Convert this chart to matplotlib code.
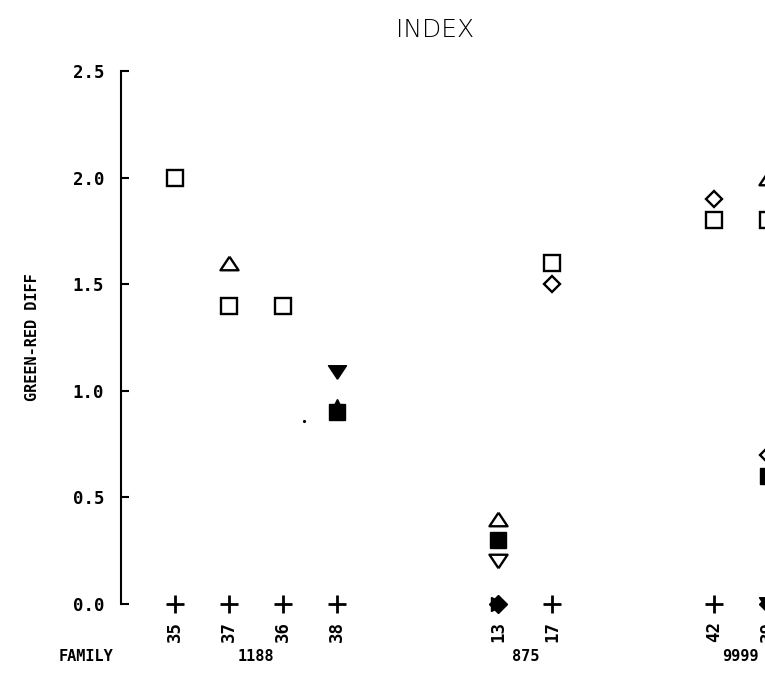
import matplotlib
matplotlib.use("Agg")
import matplotlib.pyplot as plt

## Data
sample_pos = [1, 2, 3, 4, 7, 8, 11, 12]
sample_ids = ["35", "37", "36", "38", "13", "17", "42", "39"]
family_names = ["1188", "875", "9999"]
family_pos = [2.5, 7.5, 11.5]

# open symbols
open_square_x = [1, 2, 3, 8, 11, 12]
open_square_y = [2.0, 1.4, 1.4, 1.6, 1.8, 1.8]
open_tri_up_x = [2, 7, 12]
open_tri_up_y = [1.6, 0.4, 2.0]
open_tri_down_x = [7]
open_tri_down_y = [0.2]
open_diamond_x = [8, 11, 12]
open_diamond_y = [1.5, 1.9, 0.7]

# filled symbols
filled_tri_up_x = [4]
filled_tri_up_y = [0.93]
filled_square_x = [4, 7, 12]
filled_square_y = [0.9, 0.3, 0.6]
filled_tri_down_x = [4, 12]
filled_tri_down_y = [1.09, 0.0]
filled_diamond_x = [7, 12]
filled_diamond_y = [0.0, 0.0]
filled_tri_right_x = [7]
filled_tri_right_y = [0.0]

# crosses on the baseline
plus_x = [1, 2, 3, 4, 8, 11]
plus_y = [0.0, 0.0, 0.0, 0.0, 0.0, 0.0]

# stray dot on the scan
dot_x = [3.4]
dot_y = [0.86]

yticks = [0.0, 0.5, 1.0, 1.5, 2.0, 2.5]
ytick_labels = ["0.0", "0.5", "1.0", "1.5", "2.0", "2.5"]

## Plot
fig = plt.figure(figsize=(7.65, 6.91), dpi=100)
ax = fig.add_axes([0.1582, 0.1259, 0.8418, 0.7714])

tri_up = [(0, 0.75), (-1, -0.75), (1, -0.75), (0, 0.75)]
tri_down = [(0, -0.75), (-1, 0.75), (1, 0.75), (0, -0.75)]

kw = dict(linestyle="none", clip_on=False, color="black")
ax.plot(open_square_x, open_square_y, marker="s", ms=12, mfc="white", mew=1.7, **kw)
ax.plot(open_tri_up_x, open_tri_up_y, marker=tri_up, ms=13, mfc="white", mew=1.7, **kw)
ax.plot(open_tri_down_x, open_tri_down_y, marker=tri_down, ms=13, mfc="white", mew=1.7, **kw)
ax.plot(open_diamond_x, open_diamond_y, marker="D", ms=8.5, mfc="white", mew=1.7, **kw)

ax.plot(filled_tri_up_x, filled_tri_up_y, marker="^", ms=10, mfc="black", mew=1, **kw)
ax.plot(filled_square_x, filled_square_y, marker="s", ms=12, mfc="black", mew=1, **kw)
ax.plot(filled_tri_down_x, filled_tri_down_y, marker=tri_down, ms=13, mfc="black", mew=1, **kw)
ax.plot(filled_diamond_x, filled_diamond_y, marker="D", ms=9.5, mfc="black", mew=1, **kw)
ax.plot(filled_tri_right_x, filled_tri_right_y, marker=">", ms=10, mfc="black", mew=1, **kw)

ax.plot(plus_x, plus_y, marker="+", ms=13, mew=2, **kw)
ax.plot(dot_x, dot_y, marker=".", ms=2.5, **kw)

ax.set_xlim(0, 11.95)
ax.set_ylim(0, 2.5)

# only the left axis line, ticks pointing inward
for side in ["top", "right", "bottom"]:
    ax.spines[side].set_visible(False)
ax.spines["left"].set_linewidth(1.5)
ax.set_xticks([])
ax.set_yticks(yticks)
ax.set_yticklabels(ytick_labels, fontsize=12.5, fontweight="bold", family="DejaVu Sans Mono")
ax.tick_params(axis="y", direction="in", length=6, width=1.5, pad=12)

ax.set_ylabel("GREEN-RED DIFF", fontsize=11, fontweight="bold", family="DejaVu Sans Mono", labelpad=24)

# sample ids under each column
trans = ax.get_xaxis_transform()
for x, s in zip(sample_pos, sample_ids):
    ax.text(x, -0.0525, s, transform=trans, rotation=90, ha="center", va="center",
            fontsize=12.5, fontweight="bold", family="DejaVu Sans Mono", clip_on=False)

# family labels
ax.text(-0.65, -0.0976, "FAMILY", transform=trans, ha="center", va="center",
        fontsize=11, fontweight="bold", family="DejaVu Sans Mono")
for x, f in zip(family_pos, family_names):
    ax.text(x, -0.0976, f, transform=trans, ha="center", va="center",
            fontsize=11, fontweight="bold", family="DejaVu Sans Mono")

fig.text(0.569, 0.956, "INDEX", ha="center", va="center", fontsize=18, fontweight="light")

plt.savefig("out.png", dpi=100)
